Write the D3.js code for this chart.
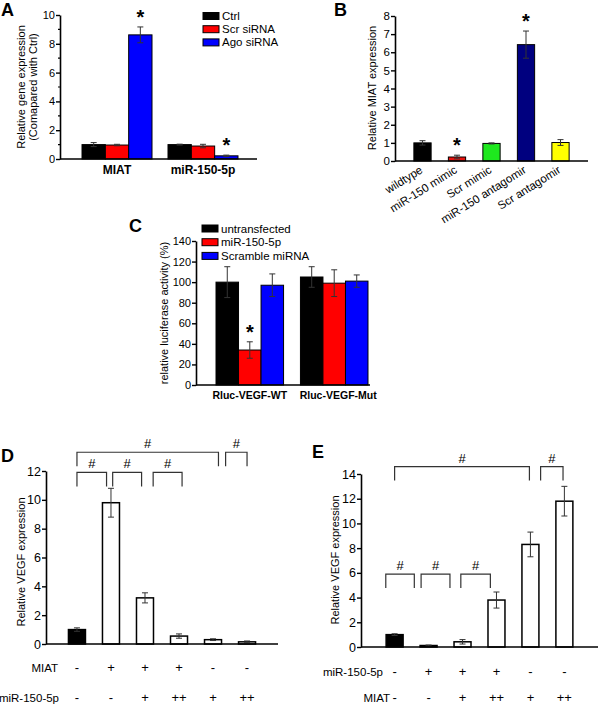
<!DOCTYPE html>
<html><head><meta charset="utf-8">
<script src="https://cdn.jsdelivr.net/npm/d3@7"></script>
<style>
body{margin:0;background:#fff}
svg{display:block}
text{font-family:"Liberation Sans",Arial,sans-serif;fill:#000}
</style>
</head><body>
<svg id="chart" width="600" height="708"></svg>
<script>
// ---------- DATA ----------
const aGroups = ["MIAT", "miR-150-5p"];
const aSeries = ["Ctrl", "Scr siRNA", "Ago siRNA"];
const aValues = [[1.0, 0.97, 8.62], [1.0, 0.9, 0.22]];
const aErrors = [[0.14, 0.05, 0.55], [0.03, 0.12, 0.05]];
const aStars = [[false, false, true], [false, false, true]];
const aTicks = [0, 2, 4, 6, 8, 10];

const bCategories = ["wildtype", "miR-150 mimic", "Scr mimic", "miR-150 antagomir", "Scr antagomir"];
const bValues = [1.0, 0.22, 0.97, 6.42, 1.02];
const bErrors = [0.12, 0.1, 0.03, 0.75, 0.16];
const bStars = [false, true, false, true, false];
const bTicks = [0, 1, 2, 3, 4, 5, 6, 7, 8];

const cGroups = ["Rluc-VEGF-WT", "Rluc-VEGF-Mut"];
const cSeries = ["untransfected", "miR-150-5p", "Scramble miRNA"];
const cValues = [[100, 34, 97], [105, 99, 101]];
const cErrors = [[15, 8, 11], [10, 13, 6]];
const cStars = [[false, true, false], [false, false, false]];
const cTicks = [0, 20, 40, 60, 80, 100, 120, 140];

const dValues = [1.0, 9.8, 3.2, 0.55, 0.3, 0.15];
const dErrors = [0.12, 1.0, 0.35, 0.15, 0.06, 0.06];
const dRow1Label = "MIAT";
const dRow1 = ["-", "+", "+", "+", "-", "-"];
const dRow2Label = "miR-150-5p";
const dRow2 = ["-", "-", "+", "++", "+", "++"];
const dTicks = [0, 2, 4, 6, 8, 10, 12];
// [from bar index, to bar index, level (y value)]
const dBrackets = [[0, 0.87, 11.9], [1.05, 1.9, 11.9], [2.24, 3.09, 11.9], [0, 4.16, 13.3], [4.37, 5, 13.3]];

const eValues = [1.0, 0.12, 0.42, 3.8, 8.3, 11.8];
const eErrors = [0.07, 0.04, 0.18, 0.65, 1.0, 1.2];
const eRow1Label = "miR-150-5p";
const eRow1 = ["-", "+", "+", "+", "-", "-"];
const eRow2Label = "MIAT";
const eRow2 = ["-", "-", "+", "++", "+", "++"];
const eTicks = [0, 2, 4, 6, 8, 10, 12, 14];
const eBrackets = [[-0.26, 0.58, 5.9], [0.78, 1.63, 5.9], [1.95, 2.82, 5.9], [0, 3.97, 14.6], [4.3, 4.96, 14.6]];

// ---------- STYLE ----------
const aColors = ["#000000", "#ff0000", "#0000ff"];
const bColors = ["#000000", "#e8130f", "#1ee81e", "#00007f", "#ffff00"];
const cColors = ["#000000", "#ff0000", "#0000ff"];
const errColor = "#333";

const svg = d3.select("#chart");

function yAxis(g, y, ticks, x, fs) {
  const ax = g.append("g").attr("transform", `translate(${x},0)`)
    .call(d3.axisLeft(y).tickValues(ticks).tickSize(4).tickSizeOuter(0).tickPadding(1).tickFormat(d3.format("d")));
  ax.select(".domain").attr("stroke", "#000").attr("stroke-width", 1.6);
  ax.selectAll(".tick line").attr("stroke", "#000").attr("stroke-width", 1.4);
  ax.selectAll(".tick text").style("font-size", fs + "px").attr("fill", "#000").attr("font-family", "Liberation Sans, Arial, sans-serif");
  return ax;
}
function xLine(g, x1, x2, y0) {
  g.append("line").attr("x1", x1).attr("x2", x2).attr("y1", y0).attr("y2", y0)
    .attr("stroke", "#000").attr("stroke-width", 1.6);
}
function errBar(g, cx, y, v, e, cap) {
  const t = y(v + e), b = y(v - e);
  g.append("line").attr("x1", cx).attr("x2", cx).attr("y1", t).attr("y2", b).attr("stroke", errColor).attr("stroke-width", 1);
  g.append("line").attr("x1", cx - cap).attr("x2", cx + cap).attr("y1", t).attr("y2", t).attr("stroke", errColor).attr("stroke-width", 1);
  g.append("line").attr("x1", cx - cap).attr("x2", cx + cap).attr("y1", b).attr("y2", b).attr("stroke", errColor).attr("stroke-width", 1);
}
function star(g, cx, ytop) {
  g.append("text").attr("x", cx).attr("y", ytop + 13).attr("text-anchor", "middle")
    .style("font-size", "20px").style("font-weight", "bold").text("*");
}
function yTitle(g, lines, x, yc, fs) {
  lines.forEach((l, i) => {
    g.append("text").attr("transform", `translate(${x + i * (fs + 1)},${yc}) rotate(-90)`)
      .attr("text-anchor", "middle").style("font-size", fs + "px").text(l);
  });
}
function panelLabel(g, t, x, y) {
  g.append("text").attr("x", x).attr("y", y).style("font-size", "18px").style("font-weight", "bold").text(t);
}
function legend(g, series, colors, x, y0, dy, fs) {
  series.forEach((s, i) => {
    g.append("rect").attr("x", x).attr("y", y0 + i * dy - 3.5).attr("width", 16).attr("height", 7)
      .attr("fill", colors[i]).attr("stroke", "#000").attr("stroke-width", 1);
    g.append("text").attr("x", x + 19).attr("y", y0 + i * dy + 4).style("font-size", fs + "px").text(s);
  });
}

// ---------- PANEL A ----------
(function () {
  const g = svg.append("g");
  const y = d3.scaleLinear().domain([0, 10]).range([159, 15]);
  const x0 = d3.scaleBand().domain(aGroups).range([60, 260]).paddingInner(0.186).paddingOuter(0.256);
  const x1 = d3.scaleBand().domain(aSeries).range([0, x0.bandwidth()]);
  aGroups.forEach((grp, gi) => {
    aSeries.forEach((s, si) => {
      const bx = x0(grp) + x1(s), v = aValues[gi][si];
      g.append("rect").attr("x", bx).attr("y", y(v)).attr("width", x1.bandwidth()).attr("height", y(0) - y(v))
        .attr("fill", aColors[si]).attr("stroke", "#000").attr("stroke-width", 1);
      const cx = bx + x1.bandwidth() / 2;
      errBar(g, cx, y, v, aErrors[gi][si], 3);
      if (aStars[gi][si]) star(g, cx, y(v + aErrors[gi][si]) - 16);
    });
    g.append("text").attr("x", x0(grp) + x0.bandwidth() / 2).attr("y", 174).attr("text-anchor", "middle")
      .style("font-size", "12px").style("font-weight", "bold").text(grp);
  });
  yAxis(g, y, aTicks, 60, 11);
  d3.range(1, 10, 2).forEach(v => g.append("line").attr("x1", 58).attr("x2", 60).attr("y1", y(v)).attr("y2", y(v)).attr("stroke", "#000").attr("stroke-width", 1.2));
  xLine(g, 60, 257, y(0));
  yTitle(g, ["Relative gene expression", "(Comapared with Ctrl)"], 25, 87, 11);
  legend(g, aSeries, aColors, 203, 16, 13.2, 11.5);
  panelLabel(g, "A", 1, 16);
})();

// ---------- PANEL B ----------
(function () {
  const g = svg.append("g");
  const y = d3.scaleLinear().domain([0, 8]).range([161, 16]);
  const x = d3.scaleBand().domain(bCategories).range([395, 588]).paddingInner(0.5).paddingOuter(0.547);
  bCategories.forEach((c, i) => {
    const v = bValues[i], cx = x(c) + x.bandwidth() / 2;
    g.append("rect").attr("x", x(c)).attr("y", y(v)).attr("width", x.bandwidth()).attr("height", y(0) - y(v))
      .attr("fill", bColors[i]).attr("stroke", "#000").attr("stroke-width", 1);
    errBar(g, cx, y, v, bErrors[i], 3);
    if (bStars[i]) star(g, cx, y(v + bErrors[i]) - 16);
    g.append("text").attr("transform", `translate(${cx + 1},${172}) rotate(-32)`).attr("text-anchor", "end")
      .style("font-size", "11.5px").text(c);
  });
  yAxis(g, y, bTicks, 395, 11.5);
  xLine(g, 395, 588, y(0));
  yTitle(g, ["Relative MIAT expression"], 376, 88, 11);
  panelLabel(g, "B", 334, 16);
})();

// ---------- PANEL C ----------
(function () {
  const g = svg.append("g");
  const y = d3.scaleLinear().domain([0, 140]).range([385, 241]);
  const x0 = d3.scaleBand().domain(cGroups).range([196, 388]).paddingInner(0.2).paddingOuter(0.237);
  const x1 = d3.scaleBand().domain(cSeries).range([0, x0.bandwidth()]);
  cGroups.forEach((grp, gi) => {
    cSeries.forEach((s, si) => {
      const bx = x0(grp) + x1(s), v = cValues[gi][si];
      g.append("rect").attr("x", bx).attr("y", y(v)).attr("width", x1.bandwidth()).attr("height", y(0) - y(v))
        .attr("fill", cColors[si]).attr("stroke", "#000").attr("stroke-width", 1);
      const cx = bx + x1.bandwidth() / 2;
      errBar(g, cx, y, v, cErrors[gi][si], 3);
      if (cStars[gi][si]) star(g, cx, y(v + cErrors[gi][si]) - 16);
    });
    g.append("text").attr("x", x0(grp) + x0.bandwidth() / 2 + gi * 4).attr("y", 399).attr("text-anchor", "middle")
      .style("font-size", "10.5px").style("font-weight", "bold").text(grp);
  });
  yAxis(g, y, cTicks, 196, 11);
  xLine(g, 196, 370, y(0));
  yTitle(g, ["relative luciferase activity (%)"], 168, 313, 11);
  legend(g, cSeries, cColors, 202, 228.5, 13.7, 11.5);
  panelLabel(g, "C", 129, 232);
})();

// ---------- PANELS D & E ----------
function vegfPanel(opts) {
  const g = svg.append("g");
  const y = d3.scaleLinear().domain([0, opts.max]).range([opts.y0, opts.y1]);
  const idx = d3.range(opts.values.length);
  const x = d3.scaleBand().domain(idx).range([opts.ax, opts.axEnd]).paddingInner(0.5).paddingOuter(opts.po);
  const cxOf = d3.scaleLinear().domain([0, 1]).range([x(0) + x.bandwidth() / 2, x(1) + x.bandwidth() / 2]);
  idx.forEach(i => {
    const v = opts.values[i];
    g.append("rect").attr("x", x(i)).attr("y", y(v)).attr("width", x.bandwidth()).attr("height", y(0) - y(v))
      .attr("fill", i === 0 ? "#000" : "#fff").attr("stroke", "#000").attr("stroke-width", 1.5);
    errBar(g, cxOf(i), y, v, opts.errors[i], 3);
  });
  yAxis(g, y, opts.ticks, opts.ax, 12.5);
  xLine(g, opts.ax, opts.axEnd, y(0));
  opts.brackets.forEach(([a, b, lvl]) => {
    const xa = cxOf(a), xb = cxOf(b), yt = y(lvl);
    g.append("path").attr("d", `M${xa},${yt + 14}V${yt}H${xb}V${yt + 14}`)
      .attr("fill", "none").attr("stroke", "#333").attr("stroke-width", 1.2);
    g.append("text").attr("x", (xa + xb) / 2).attr("y", yt - 4).attr("text-anchor", "middle")
      .style("font-size", "13px").text("#");
  });
  [[opts.row1Label, opts.row1, opts.row1Y, opts.row1LX], [opts.row2Label, opts.row2, opts.row2Y, opts.row2LX]].forEach(([lab, signs, yy, lx]) => {
    g.append("text").attr("x", lx).attr("y", yy).attr("text-anchor", "end").style("font-size", "11.5px").text(lab);
    signs.forEach((s, i) => g.append("text").attr("x", cxOf(i)).attr("y", yy).attr("text-anchor", "middle")
      .style("font-size", "13px").text(s));
  });
  yTitle(g, [opts.title], opts.titleX, opts.titleY, 11);
  panelLabel(g, opts.label, opts.lx, opts.ly);
}

vegfPanel({
  values: dValues, errors: dErrors, ticks: dTicks, brackets: dBrackets, max: 12,
  y0: 644, y1: 471, ax: 46, axEnd: 278, po: 0.66,
  row1Label: dRow1Label, row1: dRow1, row1Y: 672, row1LX: 58,
  row2Label: dRow2Label, row2: dRow2, row2Y: 702, row2LX: 59,
  title: "Relative VEGF expression", titleX: 25, titleY: 562, label: "D", lx: 1, ly: 462
});
vegfPanel({
  values: eValues, errors: eErrors, ticks: eTicks, brackets: eBrackets, max: 14,
  y0: 647, y1: 474, ax: 361, axEnd: 598, po: 0.74,
  row1Label: eRow1Label, row1: eRow1, row1Y: 676, row1LX: 383,
  row2Label: eRow2Label, row2: eRow2, row2Y: 702, row2LX: 390,
  title: "Relative VEGF expression", titleX: 339, titleY: 560, label: "E", lx: 312, ly: 458
});
</script>
</body></html>
